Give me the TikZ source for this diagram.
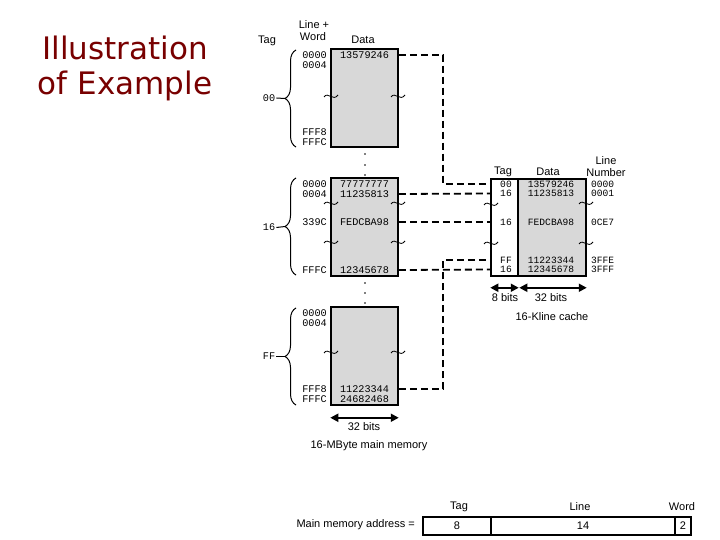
\documentclass[tikz,border=0pt]{standalone}
\usepackage{fontspec}
\setmainfont{Liberation Sans}
\newfontfamily\monof{Liberation Mono}
\newfontfamily\titlef{DejaVu Sans}
\usetikzlibrary{arrows.meta,decorations.pathreplacing}
\definecolor{titlered}{RGB}{120,0,0}
\definecolor{memgray}{RGB}{216,216,216}
\tikzset{
  lbl/.style={font=\fontsize{11}{12}\selectfont, inner sep=0pt},
  val/.style={font=\monof\fontsize{10.2}{10}\selectfont, inner sep=0pt},
  cval/.style={font=\monof\fontsize{9.6}{10}\selectfont, inner sep=0pt},
  blk/.style={draw, line width=1.5pt, fill=memgray, inner sep=0pt},
  conn/.style={dash pattern=on 7pt off 4pt, line width=1.8pt},
  dimarrow/.style={{Triangle[length=8pt,width=8pt]}-{Triangle[length=8pt,width=8pt]}, line width=1.8pt},
  bracestyle/.style={decorate, decoration={brace, amplitude=11pt}, line width=1pt},
  brk/.pic={\draw[line width=0.8pt] (-7,1) .. controls (-3,-5) and (2,6) .. (7,-1);},
  title/.style={font=\titlef\fontsize{31}{34}\selectfont, text=titlered, inner sep=0pt}
}
\begin{document}
\begin{tikzpicture}[x=1pt,y=-1pt]
\useasboundingbox (0,0) rectangle (720,540);

% title
\node[title] (t1) at (125,48) {Illustration};
\node[title] (t2) at (125,86) {of Example};

% headers of main memory
\node[lbl] (hTag) at (267,41) {Tag};
\node[lbl] (hLine) at (314,25) {Line +};
\node[lbl] (hWord) at (313,37) {Word};
\node[lbl] (hData) at (363,40) {Data};

% memory blocks
\node[blk, minimum width=67pt, minimum height=98pt] (b1) at (364.5,98) {};
\node[blk, minimum width=67pt, minimum height=98pt] (b2) at (364.5,227) {};
\node[blk, minimum width=67pt, minimum height=98pt] (b3) at (364.5,356) {};

% block 1 contents
\node[val] (m1d1) at (364.5,55) {13579246};
\node[val, anchor=east] (m1a1) at (327,55) {0000};
\node[val, anchor=east] (m1a2) at (327,65) {0004};
\node[val, anchor=east] (m1a3) at (327,132) {FFF8};
\node[val, anchor=east] (m1a4) at (327,142) {FFFC};

% block 2 contents
\node[val] (m2d1) at (364.5,184) {77777777};
\node[val] (m2d2) at (364.5,194) {11235813};
\node[val] (m2d3) at (364.5,222) {FEDCBA98};
\node[val] (m2d4) at (364.5,270) {12345678};
\node[val, anchor=east] (m2a1) at (327,184) {0000};
\node[val, anchor=east] (m2a2) at (327,194) {0004};
\node[val, anchor=east] (m2a3) at (327,222) {339C};
\node[val, anchor=east] (m2a4) at (327,270) {FFFC};

% block 3 contents
\node[val] (m3d1) at (364.5,389) {11223344};
\node[val] (m3d2) at (364.5,399) {24682468};
\node[val, anchor=east] (m3a1) at (327,313) {0000};
\node[val, anchor=east] (m3a2) at (327,323) {0004};
\node[val, anchor=east] (m3a3) at (327,389) {FFF8};
\node[val, anchor=east] (m3a4) at (327,399) {FFFC};

% braces and tags
\draw[bracestyle] (296,147) -- (296,50);
\draw[bracestyle] (296,275) -- (296,178);
\draw[bracestyle] (296,405) -- (296,308);
\node[val] (tg1) at (269,98) {00};
\node[val] (tg2) at (269,227.5) {16};
\node[val] (tg3) at (269,356.5) {FF};
\coordinate (tp1) at (285,98.5);
\coordinate (tp2) at (285,226.5);
\coordinate (tp3) at (285,356.5);
\draw[line width=1pt] (tg1.east) ++(1,0) -- (tp1);
\draw[line width=1pt] (tg2.east) ++(1,0) -- (tp2);
\draw[line width=1pt] (tg3.east) ++(1,0) -- (tp3);

% break marks on memory
\pic at (331,96) {brk};   \pic at (398,96) {brk};
\pic at (331,203) {brk};  \pic at (398,203) {brk};
\pic at (331,242) {brk};  \pic at (398,242) {brk};
\pic at (331,352) {brk};  \pic at (398,352) {brk};

% dots
\foreach \yy in {154,165,175,283,293,303} \fill (365,\yy) circle (0.8);

% memory width
\draw[dimarrow] (b3.south west) ++(0,12) coordinate (mw1) -- (b3.south east |- mw1) coordinate (mw2);
\node[lbl] (m32) at (364,427) {32 bits};
\node[lbl] (mcap) at (369,446) {16-MByte main memory};

% cache
\node[draw, line width=1.5pt, fill=white, inner sep=0pt, minimum width=27pt, minimum height=97pt] (ct) at (504.5,227.5) {};
\node[blk, minimum width=68pt, minimum height=97pt] (cd) at (552,227.5) {};
\node[lbl] (chTag) at (503,172) {Tag};
\node[lbl] (chData) at (548,172) {Data};
\node[lbl] (chLine) at (606,161) {Line};
\node[lbl] (chNum) at (606,173) {Number};

\node[cval] (ct1) at (506,184) {00};
\node[cval] (ct2) at (506,193.5) {16};
\node[cval] (ct3) at (506,222) {16};
\node[cval] (ct4) at (506,260) {FF};
\node[cval] (ct5) at (506,269.5) {16};
\node[cval] (cd1) at (551,184) {13579246};
\node[cval] (cd2) at (551,193.5) {11235813};
\node[cval] (cd3) at (551,222) {FEDCBA98};
\node[cval] (cd4) at (551,260) {11223344};
\node[cval] (cd5) at (551,269.5) {12345678};
\node[cval, anchor=west] (cl1) at (591,184) {0000};
\node[cval, anchor=west] (cl2) at (591,193.5) {0001};
\node[cval, anchor=west] (cl3) at (591,222) {0CE7};
\node[cval, anchor=west] (cl4) at (591,260) {3FFE};
\node[cval, anchor=west] (cl5) at (591,269.5) {3FFF};

\pic at (491,204) {brk};  \pic at (586,203) {brk};
\pic at (491,243) {brk};  \pic at (586,243) {brk};

% cache widths
\draw[dimarrow] (ct.south west) ++(0,11) coordinate (cw1) -- (ct.south east |- cw1) coordinate (cw2);
\draw[dimarrow] (cd.south west) ++(2,11) coordinate (cw3) -- (cd.south east |- cw3) coordinate (cw4);
\node[lbl] (c8) at (505,298) {8 bits};
\node[lbl] (c32) at (551,298) {32 bits};
\node[lbl] (ccap) at (552,317) {16-Kline cache};

% dashed connectors
\coordinate (j1) at (443,55);
\coordinate (j2) at (443,260);
\draw[conn] (b1.east |- m1d1) -- (j1) |- (ct.west |- ct1);
\draw[conn] (b2.east |- m2d2) -- (ct.west |- ct2);
\draw[conn] (b2.east |- m2d3) -- (ct.west |- ct3);
\draw[conn] (b2.east |- m2d4) -- (ct.west |- ct5);
\draw[conn] (b3.east |- m3d1) -| (j2) -- (ct.west |- ct4);

% address format
\node[draw, line width=1.5pt, inner sep=0pt, minimum width=68pt, minimum height=18pt] (aT) at (457,526) {};
\node[draw, line width=1.5pt, inner sep=0pt, minimum width=184pt, minimum height=18pt] (aL) at (583,526) {};
\node[draw, line width=1.5pt, inner sep=0pt, minimum width=16pt, minimum height=18pt] (aW) at (683,526) {};
\node[lbl] at (aT) {8};
\node[lbl] at (aL) {14};
\node[lbl] at (aW) {2};
\node[lbl] (ahT) at (459,507) {Tag};
\node[lbl] (ahL) at (580,507) {Line};
\node[lbl] (ahW) at (682,507) {Word};
\node[lbl, anchor=east] (amain) at (415,525) {Main memory address =};
\end{tikzpicture}
\end{document}
